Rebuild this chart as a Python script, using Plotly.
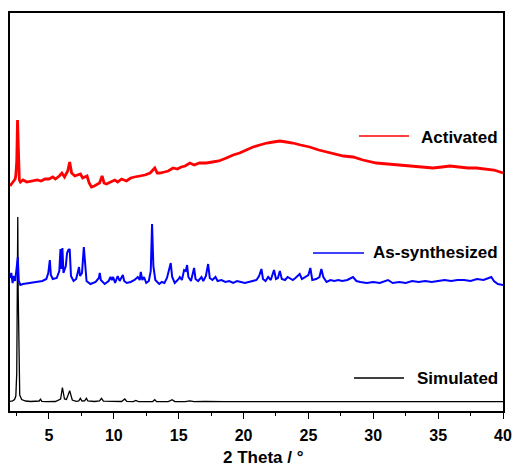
import plotly.graph_objects as go

# ---------------- data (arbitrary intensity units) ----------------
sim_x = [2.0, 2.2, 2.35, 2.45, 2.52, 2.57, 2.6, 2.63, 2.68, 2.75, 2.9, 3.2, 3.6, 4.0, 4.25, 4.35, 4.45, 4.8,
         5.5, 5.9, 6.04, 6.2, 6.35, 6.6, 6.8, 7.1, 7.3, 7.42, 7.55, 7.75, 7.89, 8.0, 8.5, 8.9, 9.05, 9.2,
         9.8, 10.6, 10.85, 11.0, 11.5, 11.7, 11.9, 12.5, 13.0, 13.16, 13.3, 14.2, 14.5, 14.7, 15.5,
         15.86, 16.2, 17.0, 17.5, 18.5, 20.0, 22.0, 24.0, 26.4, 27.0, 30.0, 33.0, 36.0, 40.0]
sim_y = [9.6, 10.2, 11.5, 15, 38, 120, 194, 120, 38, 16, 11.5, 10, 9.5, 9.4, 10, 11.8, 9.6, 9.4,
         9.5, 12, 23.5, 12, 11.5, 20.3, 11, 9.6, 10, 12.7, 10, 10.2, 12.7, 10, 9.5, 10, 12.7, 9.8,
         9.4, 9.5, 12, 9.6, 9.4, 10.6, 9.4, 9.3, 9.5, 11.3, 9.4, 9.3, 11.3, 9.4, 9.3,
         10.2, 9.3, 9.6, 9.3, 9.4, 9.3, 9.5, 9.3, 9.9, 9.3, 9.4, 9.3, 9.3, 9.3]

syn_x = [2.0, 2.1, 2.2, 2.3, 2.4, 2.5, 2.6, 2.68, 2.8, 3.0, 3.5, 4.0, 4.5, 4.8, 4.95, 5.07, 5.15, 5.3,
         5.6, 5.8, 5.89, 5.95, 6.04, 6.12, 6.3, 6.4, 6.5, 6.6, 6.7, 6.9, 7.1, 7.25, 7.32, 7.4, 7.55,
         7.69, 7.78, 7.9, 8.2, 8.6, 8.85, 8.92, 9.0, 9.3, 9.6, 9.75, 9.85, 9.95, 10.1, 10.3, 10.45,
         10.7, 10.8, 11.0, 11.3, 11.6, 11.85, 12.0, 12.08, 12.2, 12.33, 12.5, 12.7, 12.85, 12.95,
         13.05, 13.2, 13.5, 13.7, 13.9, 14.1, 14.3, 14.39, 14.5, 14.7, 15.0, 15.09, 15.25, 15.42,
         15.55, 15.65, 15.75, 15.95, 16.19, 16.3, 16.5, 16.76, 16.9, 17.1, 17.27, 17.4, 17.6, 17.84,
         18.0, 18.3, 18.6, 18.9, 19.2, 19.5, 19.8, 20.1, 20.4, 20.7, 21.0, 21.2, 21.38, 21.5, 21.7,
         21.9, 22.1, 22.35, 22.5, 22.65, 22.8, 22.95, 23.2, 23.4, 23.56, 23.8, 24.0, 24.2, 24.33,
         24.5, 24.8, 25.0, 25.15, 25.3, 25.6, 25.85, 26.0, 26.15, 26.4, 26.7, 27.0, 27.3, 27.6, 28.0,
         28.44, 28.7, 29.0, 29.5, 30.0, 30.5, 31.14, 31.5, 32.0, 32.5, 33.0, 33.5, 34.0, 34.5, 35.0,
         35.5, 36.0, 36.5, 37.0, 37.5, 38.0, 38.5, 38.9, 39.1, 39.3, 39.6, 40.0]
syn_y = [133, 138, 128, 135, 130, 140, 154, 130, 126, 127, 128, 129, 130, 132, 138, 151, 136, 132,
         133, 140, 162, 142, 163, 138, 145, 158, 161, 162, 135, 130, 132, 140, 144, 135, 138,
         164, 146, 130, 127, 129, 133, 138, 131, 127, 130, 134, 131, 134, 128, 135, 130,
         136, 130, 128, 129, 131, 134, 131, 139, 131, 134, 128, 130, 140, 187,
         145, 131, 127, 129, 128, 133, 142, 148, 134, 128, 132, 134, 131, 141,
         140, 146, 134, 130, 143, 132, 130, 134, 130, 135, 147, 133, 131, 134,
         130, 131, 129, 130, 128, 130, 129, 128, 129, 130, 131, 135, 142, 132, 130,
         134, 131, 141, 132, 133, 140, 132, 131, 134, 133, 131, 133, 136, 137,
         132, 134, 136, 143, 131, 132, 134, 142, 134, 129, 131, 130, 131, 130, 131,
         134, 130, 129, 128, 129, 128, 131, 128, 129, 128, 130, 129, 130, 129, 130,
         131, 130, 131, 131, 130, 132, 131, 133, 134, 130, 127, 126]

act_x = [2.0, 2.2, 2.4, 2.45, 2.52, 2.58, 2.65, 2.72, 2.8, 3.0, 3.3, 3.6, 3.8, 4.1, 4.4, 4.7, 5.0,
         5.3, 5.5, 5.8, 6.0, 6.2, 6.45, 6.6, 6.75, 7.0, 7.2, 7.43, 7.6, 7.76, 7.94, 8.1, 8.28, 8.5,
         8.66, 8.9, 9.1, 9.25, 9.43, 9.7, 10.08, 10.3, 10.6, 10.98, 11.3, 11.6, 12.0, 12.4, 12.8,
         13.16, 13.35, 13.55, 13.9, 14.2, 14.57, 14.9, 15.2, 15.5, 15.86, 16.2, 16.6, 17.14, 17.6,
         18.1, 18.68, 19.2, 19.7, 20.2, 20.73, 21.25, 21.8, 22.3, 22.8, 23.3, 23.8, 24.4, 25.1,
         25.8, 26.4, 27.0, 27.7, 28.44, 29.2, 30.24, 31.0, 31.8, 32.8, 33.7, 34.6, 35.3, 35.9,
         36.6, 37.3, 37.95, 38.6, 39.3, 40.0]
act_y = [225, 228, 232, 236, 250, 291, 250, 231, 229, 231, 229, 230, 230, 231, 230, 232, 232,
         234, 232, 235, 238, 234, 240, 249, 238, 235, 236, 237, 233, 234, 235, 228, 224, 225,
         226, 228, 235, 228, 227, 229, 231, 229, 232, 230, 233, 234, 235, 236, 238,
         243, 238, 238, 239, 240, 243, 242, 244, 245, 248, 246, 248, 248, 249,
         250, 253, 256, 258, 261, 264, 266, 268, 269, 270, 269, 268, 266, 264,
         261, 259, 257, 255, 254, 251, 248, 247, 246, 245, 244, 243, 244, 245,
         244, 243, 243, 242, 241, 238]

series_names = ["Simulated", "As-synthesized", "Activated"]
series_colors = ["#000000", "#0000ff", "#ff0000"]
x_ticks = [5, 10, 15, 20, 25, 30, 35, 40]

# ---------------- figure ----------------
FONT = "Liberation Sans"
fig = go.Figure()
for xs, ys, name, col, w in [(sim_x, sim_y, series_names[0], series_colors[0], 1.3),
                             (syn_x, syn_y, series_names[1], series_colors[1], 2.0),
                             (act_x, act_y, series_names[2], series_colors[2], 2.8)]:
    fig.add_trace(go.Scatter(x=xs, y=ys, mode="lines", name=name,
                             line=dict(color=col, width=w), showlegend=False))

W, H = 518, 472
L, R, T, B = 10, 15, 13, 61
pw, ph = W - L - R, H - T - B

def px(xp):
    return (xp - L) / pw

def py(yp):
    return (H - B - yp) / ph

# legend-like labels (line key + text), positions in paper space
labels = [(series_names[2], series_colors[2], 359, 409, 136, 137),
          (series_names[1], series_colors[1], 313, 364, 253, 253),
          (series_names[0], series_colors[0], 354, 404, 378, 378)]
for name, col, x0, x1, yl, yt in labels:
    fig.add_shape(type="line", xref="paper", yref="paper", x0=px(x0), x1=px(x1),
                  y0=py(yl), y1=py(yl), line=dict(color=col, width=1.5))
    fig.add_annotation(xref="paper", yref="paper", x=px(500), y=py(yt), text=name,
                       showarrow=False, xanchor="right", yanchor="middle",
                       font=dict(family=FONT, size=17, color="#000000", weight=700))

fig.add_annotation(xref="paper", yref="paper", x=px(263), y=0, yshift=-46,
                   text="2 Theta / °", showarrow=False, xanchor="center", yanchor="middle",
                   font=dict(family=FONT, size=17, color="#000000", weight=700))

fig.update_layout(
    width=W, height=H, margin=dict(l=L, r=R, t=T, b=B, autoexpand=False),
    paper_bgcolor="white", plot_bgcolor="white",
    font=dict(family=FONT, size=16, color="#000000"),
    showlegend=False,
)
fig.update_xaxes(range=[2, 40], tickmode="array", tickvals=x_ticks,
                 ticktext=[str(v) for v in x_ticks], automargin=False,
                 ticks="outside", ticklen=6, tickwidth=1.3, tickcolor="black",
                 ticklabelstandoff=3,
                 minor=dict(dtick=2.5, tick0=0, ticks="outside", ticklen=3, tickwidth=1.2, tickcolor="black"),
                 showline=True, linecolor="black", linewidth=1.5, mirror=True,
                 showgrid=False, zeroline=False,
                 tickfont=dict(family=FONT, size=16, weight=700))
fig.update_yaxes(range=[0, ph], showticklabels=False, ticks="", showline=True, automargin=False,
                 linecolor="black", linewidth=1.5, mirror=True, showgrid=False, zeroline=False)

fig.write_html("out.html")
